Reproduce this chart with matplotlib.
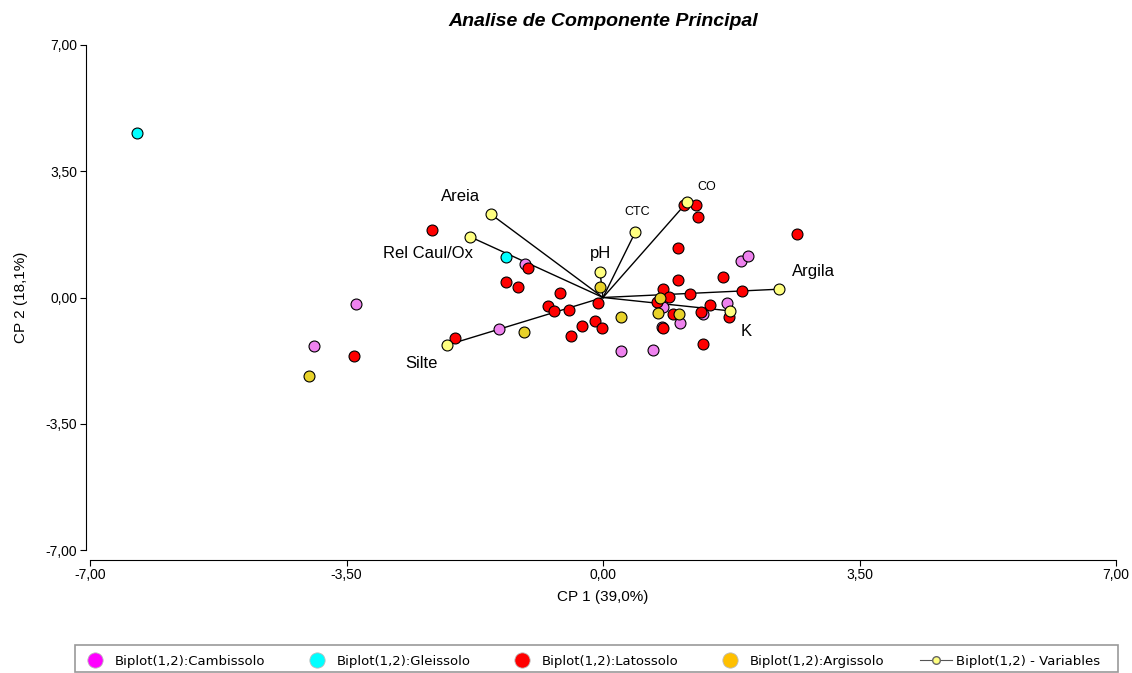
import matplotlib
matplotlib.use("Agg")
import matplotlib.pyplot as plt
from matplotlib.lines import Line2D
from matplotlib.patches import Rectangle

plt.rcParams['font.family'] = ['Liberation Sans', 'DejaVu Sans']

# ---- data ----
camb_x = [-1.06, -3.37, -3.94, -1.42, 0.25, 0.68, 0.82, 1.05, 0.80, 1.37, 1.69, 1.88, 1.98]
camb_y = [0.93, -0.18, -1.34, -0.87, -1.48, -1.46, -0.26, -0.71, -0.82, -0.46, -0.15, 1.01, 1.15]

gley_x = [-6.36, -1.32]
gley_y = [4.56, 1.12]

lato_x = [-2.33, -1.02, -1.32, -1.16, -3.40, -2.02, 1.10, 1.27, 1.30, -0.07, -0.59, -0.75,
          -0.67, -0.46, -0.29, -0.11, -0.01, -0.44, 1.02, 1.02, 0.82, 0.90, 0.74, 1.19,
          0.96, 0.82, 1.46, 1.34, 1.37, 1.72, 1.64, 1.90, 2.65]
lato_y = [1.87, 0.82, 0.43, 0.29, -1.62, -1.12, 2.56, 2.56, 2.23, -0.15, 0.12, -0.24,
          -0.37, -0.35, -0.79, -0.65, -0.85, -1.07, 1.37, 0.49, 0.24, 0.01, -0.12, 0.10,
          -0.46, -0.85, -0.21, -0.40, -1.29, -0.54, 0.57, 0.18, 1.76]

argi_x = [-4.01, -1.08, -0.04, 0.25, 0.78, 0.75, 1.04]
argi_y = [-2.18, -0.96, 0.29, -0.54, -0.01, -0.43, -0.46]

var_names = ["Areia", "Rel Caul/Ox", "Silte", "pH", "CTC", "CO", "Argila", "K"]
var_x = [-1.53, -1.81, -2.13, -0.04, 0.44, 1.15, 2.40, 1.73]
var_y = [2.31, 1.68, -1.32, 0.70, 1.81, 2.65, 0.23, -0.37]
lab_x = [-1.95, -2.39, -2.48, -0.03, 0.46, 1.42, 2.87, 1.95]
lab_y = [2.79, 1.23, -1.84, 1.23, 2.37, 3.06, 0.71, -0.93]
lab_size = [12, 12, 12, 12, 9, 9, 12, 12]

ticks = [-7.0, -3.5, 0.0, 3.5, 7.0]
tick_labels = ["-7,00", "-3,50", "0,00", "3,50", "7,00"]

# ---- figure ----
fig = plt.figure(figsize=(11.32, 6.73), dpi=100)
ax = fig.add_axes([90/1132, 1 - 550/673, 1026/1132, 505/673])

ms = 62
ec = "black"
lw = 0.8
groups = [
    (camb_x, camb_y, "#EE82EE", "#FF00FF", "Biplot(1,2):Cambissolo"),
    (gley_x, gley_y, "#00FFFF", "#00FFFF", "Biplot(1,2):Gleissolo"),
    (lato_x, lato_y, "#FF0000", "#FF0000", "Biplot(1,2):Latossolo"),
    (argi_x, argi_y, "#E8D22A", "#FFC000", "Biplot(1,2):Argissolo"),
]
for gx, gy, c, lc, lab in groups:
    ax.scatter(gx, gy, s=ms, c=c, edgecolors=ec, linewidths=lw, zorder=3)

for vx, vy in zip(var_x, var_y):
    ax.plot([0, vx], [0, vy], color="black", lw=1.0, zorder=2)
ax.scatter(var_x, var_y, s=ms, c="#FFFF80", edgecolors=ec, linewidths=lw, zorder=4)
for name, tx, ty, fs in zip(var_names, lab_x, lab_y, lab_size):
    ax.text(tx, ty, name, fontsize=fs, ha="center", va="center", zorder=5)

ax.set_xlim(-7, 7)
ax.set_ylim(-7, 7)
ax.set_xticks(ticks)
ax.set_xticklabels(tick_labels)
ax.set_yticks(ticks)
ax.set_yticklabels(tick_labels)
ax.tick_params(labelsize=10, length=4, width=0.8, direction="out", pad=2)
for s in ["top", "right"]:
    ax.spines[s].set_visible(False)
ax.spines["left"].set_position(("outward", 3))
ax.spines["bottom"].set_position(("outward", 7))
ax.spines["left"].set_linewidth(0.8)
ax.spines["bottom"].set_linewidth(0.8)

ax.set_xlabel("CP 1 (39,0%)", fontsize=11, labelpad=6)
ax.set_ylabel("CP 2 (18,1%)", fontsize=11, labelpad=13)
fig.text(603/1132, 1 - 22/673, "Analise de Componente Principal", fontsize=14,
         fontweight="bold", fontstyle="italic", ha="center", va="center")

# legend box
fig.patches.append(Rectangle((75/1132, 1 - 672/673), 1043/1132, 27/673,
                             transform=fig.transFigure, facecolor="white",
                             edgecolor="#999999", linewidth=1.2, zorder=0))
handles = []
for gx, gy, c, lc, lab in groups:
    handles.append(Line2D([], [], ls="none", marker="o", markersize=11,
                          markerfacecolor=lc, markeredgecolor="#BBBBBB",
                          markeredgewidth=0.6, label=lab))
handles.append(Line2D([], [], color="#555555", lw=0.8, marker="o", markersize=5.5,
                      markerfacecolor="#FFFF80", markeredgecolor="#666666",
                      label="Biplot(1,2) - Variables"))
leg = fig.legend(handles=handles, loc="lower left",
                 bbox_to_anchor=(79/1132, 1 - 668/673, 1021/1132, 20/673),
                 mode="expand", ncol=5, frameon=False, borderpad=0.0, borderaxespad=0.0,
                 handletextpad=0.3, columnspacing=1.5, handlelength=2.4,
                 prop={"family": "DejaVu Sans", "size": 9.5})

fig.savefig("out.png", dpi=100)
